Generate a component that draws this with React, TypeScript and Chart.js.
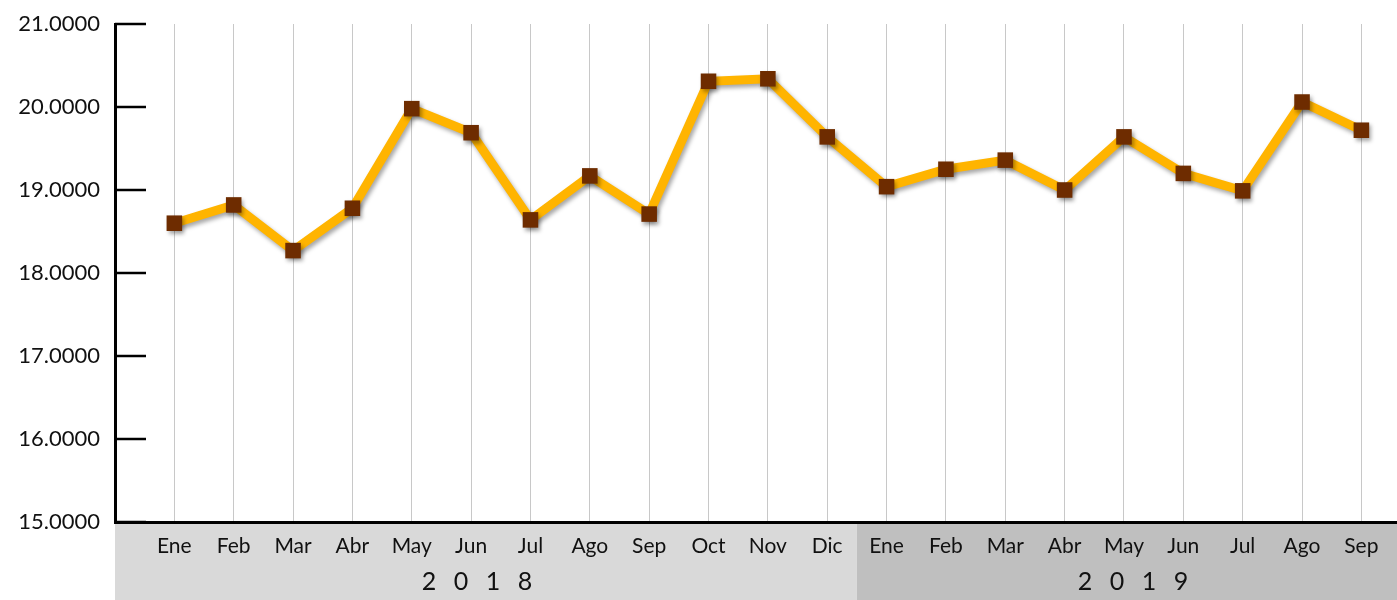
import React, { useEffect, useRef } from 'react';
import { Chart, registerables } from 'chart.js';

Chart.register(...registerables);

const MONTHS = ['Ene', 'Feb', 'Mar', 'Abr', 'May', 'Jun', 'Jul', 'Ago', 'Sep', 'Oct', 'Nov', 'Dic',
  'Ene', 'Feb', 'Mar', 'Abr', 'May', 'Jun', 'Jul', 'Ago', 'Sep'];
const VALUES = [18.60, 18.82, 18.27, 18.78, 19.98, 19.69, 18.64, 19.17, 18.71, 20.31, 20.34, 19.64,
  19.04, 19.25, 19.36, 19.00, 19.64, 19.20, 18.99, 20.06, 19.72];
const YEARS = ['2018', '2019'];
const YEAR_FIRST_INDEX = [0, 12];
const Y_TICKS = [15, 16, 17, 18, 19, 20, 21];

const FONT = 'Lato, "Noto Sans", sans-serif';

export default function App() {
  const ref = useRef<HTMLCanvasElement | null>(null);

  useEffect(() => {
    document.body.style.margin = '0';
    const canvas = ref.current;
    if (!canvas) return;

    const bandsPlugin = {
      id: 'bands',
      beforeDraw(chart: any) {
        const { ctx, chartArea } = chart;
        const xs = chart.scales.x;
        const h = chart.height;
        const colors = ['#d9d9d9', '#bfbfbf'];
        ctx.save();
        YEAR_FIRST_INDEX.forEach((start, i) => {
          const x0 = i === 0 ? chartArea.left : xs.getPixelForValue(start - 0.5);
          const next = YEAR_FIRST_INDEX[i + 1];
          const x1 = next === undefined ? chart.width : xs.getPixelForValue(next - 0.5);
          ctx.fillStyle = colors[i];
          ctx.fillRect(x0, chartArea.bottom, x1 - x0, h - chartArea.bottom);
        });
        ctx.restore();
      },
      afterDraw(chart: any) {
        const { ctx, chartArea } = chart;
        const xs = chart.scales.x;
        const ys = chart.scales.y;
        ctx.save();
        ctx.strokeStyle = '#000';
        ctx.lineWidth = 2.5;
        Y_TICKS.forEach((v) => {
          const y = ys.getPixelForValue(v);
          ctx.beginPath();
          ctx.moveTo(chartArea.left, y);
          ctx.lineTo(chartArea.left + 31, y);
          ctx.stroke();
        });
        ctx.fillStyle = '#111';
        ctx.font = '25px ' + FONT;
        ctx.textBaseline = 'middle';
        ctx.textAlign = 'center';
        const centers = [5.1, 16.15];
        YEARS.forEach((yr, i) => {
          const cx = xs.getPixelForValue(centers[i]);
          const step = 32;
          const chars = yr.split('');
          const startX = cx - (step * (chars.length - 1)) / 2;
          chars.forEach((c, k) => ctx.fillText(c, startX + k * step, 582));
        });
        ctx.restore();
      },
    };

    const shadowPlugin = {
      id: 'lineShadow',
      beforeDatasetsDraw(chart: any) {
        const ctx = chart.ctx;
        ctx.save();
        ctx.shadowColor = 'rgba(0,0,0,0.35)';
        ctx.shadowBlur = 4;
        ctx.shadowOffsetX = 2;
        ctx.shadowOffsetY = 3;
      },
      afterDatasetsDraw(chart: any) {
        chart.ctx.restore();
      },
    };

    const chart = new Chart(canvas, {
      type: 'line',
      data: {
        datasets: [
          {
            data: VALUES.map((v, i) => ({ x: i, y: v })),
            borderColor: '#FFB400',
            borderWidth: 9,
            tension: 0,
            pointStyle: 'rect',
            pointRadius: 11,
            pointHoverRadius: 11,
            pointBackgroundColor: '#6E2C00',
            pointBorderColor: '#6E2C00',
            pointBorderWidth: 0,
            clip: false as any,
          },
        ],
      },
      options: {
        animation: false,
        responsive: true,
        maintainAspectRatio: false,
        layout: { autoPadding: false, padding: { top: 24, left: 0, right: 0, bottom: 0 } },
        plugins: { legend: { display: false }, tooltip: { enabled: false } },
        scales: {
          x: {
            type: 'linear',
            min: -1,
            max: 20.6,
            afterBuildTicks: (scale: any) => {
              scale.ticks = MONTHS.map((_, i) => ({ value: i }));
            },
            afterFit: (scale: any) => {
              scale.height = 78;
              scale.paddingLeft = 0;
              scale.paddingRight = 0;
            },
            ticks: {
              autoSkip: false,
              maxRotation: 0,
              padding: 12,
              color: '#111',
              font: { family: FONT, size: 21 },
              callback: (v: any) => MONTHS[v as number],
            },
            grid: { color: '#c8c8c8', lineWidth: 1, drawTicks: false, tickLength: 0 },
            border: { display: true, color: '#000', width: 3 },
          },
          y: {
            min: 15,
            max: 21,
            afterBuildTicks: (scale: any) => {
              scale.ticks = Y_TICKS.map((v) => ({ value: v }));
            },
            afterFit: (scale: any) => {
              scale.width = 115;
              scale.paddingTop = 0;
              scale.paddingBottom = 0;
            },
            ticks: {
              padding: 15,
              color: '#111',
              font: { family: FONT, size: 22 },
              callback: (v: any) => Number(v).toFixed(4),
            },
            grid: { display: true, drawOnChartArea: false, drawTicks: false, tickLength: 0 },
            border: { display: true, color: '#000', width: 3 },
          },
        },
      },
      plugins: [bandsPlugin, shadowPlugin],
    });

    return () => chart.destroy();
  }, []);

  return (
    <div style={{ width: 1397, height: 600, position: 'relative' }}>
      <canvas ref={ref} />
    </div>
  );
}
